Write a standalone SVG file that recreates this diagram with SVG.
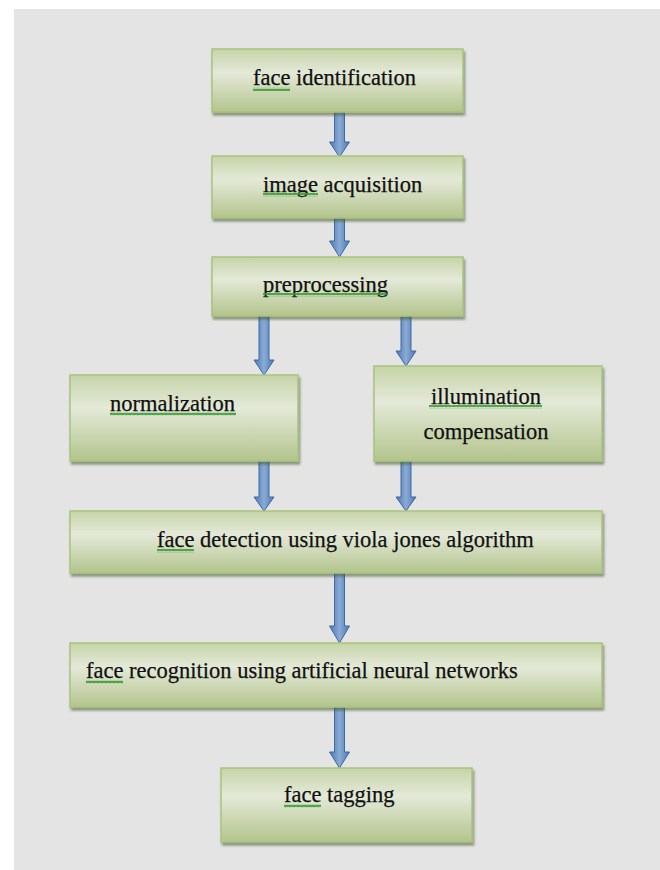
<svg xmlns="http://www.w3.org/2000/svg" width="660" height="870" viewBox="0 0 660 870">
<defs>
<linearGradient id="boxg" x1="0" y1="0" x2="0" y2="1">
<stop offset="0" stop-color="#c6d4a8"/>
<stop offset="0.38" stop-color="#e4e9d8"/>
<stop offset="1" stop-color="#b3c48c"/>
</linearGradient>
<linearGradient id="arrg" x1="0" y1="0" x2="1" y2="0">
<stop offset="0" stop-color="#4a78b0"/>
<stop offset="0.5" stop-color="#8aaad6"/>
<stop offset="1" stop-color="#4a78b0"/>
</linearGradient>
<filter id="sh" x="-5%" y="-10%" width="115%" height="130%">
<feDropShadow dx="1.5" dy="3" stdDeviation="0.9" flood-color="#4a5538" flood-opacity="0.55"/>
</filter>
<pattern id="squig" x="0" y="0" width="4" height="4" patternUnits="userSpaceOnUse">
<path d="M0 3.2 L1 0.8 L2 3.2 L3 0.8 L4 3.2" fill="none" stroke="#2f9a2f" stroke-width="1"/>
</pattern>
</defs>
<style>
.box{fill:url(#boxg);stroke:#a9c37d;stroke-width:1.5;filter:url(#sh)}
.t{font-family:"Liberation Serif","Times New Roman",serif;font-size:22.5px;fill:#111;stroke:#111;stroke-width:0.25}
.arr{fill:url(#arrg);stroke:#3f6a9e;stroke-width:1}
.sq{fill:url(#squig)}
</style>
<rect x="14" y="9" width="646" height="861" fill="#e4e4e4"/>

<g id="connectors">
<path class="arr" d="M334.5 112 H344.5 V142 H349.5 L339.5 157 L329.5 142 H334.5 Z"/>
<path class="arr" d="M334.5 218 H344.5 V241 H349.5 L339.5 257 L329.5 241 H334.5 Z"/>
<path class="arr" d="M259 316 H269 V360 H274 L264 375 L254 360 H259 Z"/>
<path class="arr" d="M401 316 H411 V351 H416 L406 366 L396 351 H401 Z"/>
<path class="arr" d="M259 459 H269 V497 H274 L264 511 L254 497 H259 Z"/>
<path class="arr" d="M401 459 H411 V497 H416 L406 511 L396 497 H401 Z"/>
<path class="arr" d="M334.5 573 H344.5 V626 H349.5 L339.5 643 L329.5 626 H334.5 Z"/>
<path class="arr" d="M334.5 707 H344.5 V752 H349.5 L339.5 768 L329.5 752 H334.5 Z"/>
</g>

<g id="face-identification">
<rect class="box" x="212" y="49" width="251" height="63"/>
<text class="t" x="253" y="85">face identification</text>
<rect class="sq" x="253" y="87" width="37" height="4"/>
</g>
<g id="image-acquisition">
<rect class="box" x="212" y="156" width="251" height="62"/>
<text class="t" x="263" y="192">image acquisition</text>
<rect class="sq" x="263" y="193" width="55" height="4"/>
</g>
<g id="preprocessing">
<rect class="box" x="212" y="257" width="251" height="59"/>
<text class="t" x="263" y="292">preprocessing</text>
<rect class="sq" x="263" y="293" width="124" height="4"/>
</g>
<g id="normalization">
<rect class="box" x="70" y="375" width="228" height="86"/>
<text class="t" x="110" y="411">normalization</text>
<rect class="sq" x="110" y="412" width="126" height="4"/>
</g>
<g id="illumination-compensation">
<rect class="box" x="374" y="366" width="228" height="95"/>
<text class="t" x="486" y="404" text-anchor="middle">illumination</text>
<text class="t" x="486" y="439" text-anchor="middle">compensation</text>
<rect class="sq" x="429" y="405" width="113" height="4"/>
</g>
<g id="face-detection">
<rect class="box" x="70" y="511" width="532" height="62"/>
<text class="t" x="157" y="547">face detection using viola jones algorithm</text>
<rect class="sq" x="157" y="549" width="37" height="4"/>
</g>
<g id="face-recognition">
<rect class="box" x="70" y="643" width="532" height="64"/>
<text class="t" x="86" y="678">face recognition using artificial neural networks</text>
<rect class="sq" x="86" y="680" width="37" height="4"/>
</g>
<g id="face-tagging">
<rect class="box" x="221" y="768" width="251" height="74"/>
<text class="t" x="284" y="802">face tagging</text>
<rect class="sq" x="284" y="804" width="37" height="4"/>
</g>
</svg>
